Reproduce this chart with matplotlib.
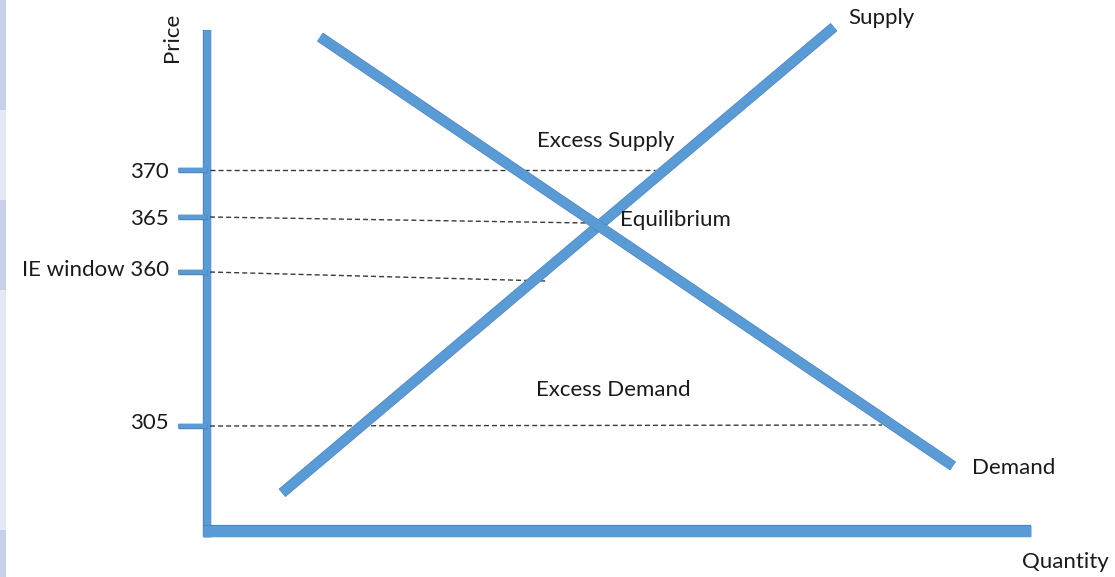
import matplotlib
matplotlib.use("Agg")
import matplotlib.pyplot as plt
import matplotlib.patheffects as pe
from matplotlib.patches import Rectangle

# diagram units: quantity to the right of the price axis, price level above the quantity axis
supply_q = [75, 627]
supply_p = [38, 504]
demand_q = [113, 746]
demand_p = [494, 65]

tick_labels = ["370", "365", "IE window 360", "305"]
tick_p = [361, 314, 259, 105]
label_p = [359, 312, 261, 108]
# guide lines from the price axis to the curves (end quantity, end level)
guide_end_q = [448, 380, 340, 675]
guide_end_p = [361, 308, 250, 106]

region_labels = ["Excess Supply", "Equilibrium", "Excess Demand"]
region_q = [399, 413, 406]
region_p = [390, 311, 141]

blue = "#5b9bd5"
edge = "#4c80bd"
txt = "#1a1a1a"
fs = 16
plt.rcParams["font.family"] = ["Lato", "DejaVu Sans"]

fig = plt.figure(figsize=(11.15, 5.77), dpi=100)
ax = fig.add_axes([0, 0, 1, 1])
ax.set_xlim(-207, 908)
ax.set_ylim(-46, 531)
ax.axis("off")

# faint slide strip on the left edge
bounds = [0, 110, 200, 290, 530, 577]
cols = ["#c9d1e8", "#e6e9f5", "#c9d1e8", "#e6e9f5", "#c9d1e8"]
for i in range(5):
    fig.patches.append(Rectangle((0, 1 - bounds[i + 1] / 577), 6 / 1115,
                                 (bounds[i + 1] - bounds[i]) / 577,
                                 transform=fig.transFigure, color=cols[i], lw=0))

fx = [pe.Stroke(linewidth=7.6, foreground=edge), pe.Stroke(linewidth=6.8, foreground=blue)]

# axes of the diagram
ax.plot([0, 0], [-6, 501], color=blue, lw=5.8, solid_capstyle="butt",
        path_effects=[pe.Stroke(linewidth=6.0, foreground=edge), pe.Stroke(linewidth=5.3, foreground=blue)])
ax.plot([-4, 824], [0, 0], color=blue, lw=8.6, solid_capstyle="butt",
        path_effects=[pe.Stroke(linewidth=8.8, foreground=edge), pe.Stroke(linewidth=8.1, foreground=blue)])

# price ticks, labels and dashed guides
for lab, tp, lp, gq, gp in zip(tick_labels, tick_p, label_p, guide_end_q, guide_end_p):
    ax.plot([-29, 0], [tp, tp], color=blue, lw=3.6, solid_capstyle="butt",
            path_effects=[pe.Stroke(linewidth=3.9, foreground=edge), pe.Stroke(linewidth=3.2, foreground=blue)])
    ax.plot([3, gq], [tp, gp], color="#3a3a3a", lw=1.0, ls=(0, (3.6, 2.2)))
    ax.text(-38, lp, lab, ha="right", va="center", fontsize=fs, color=txt)

# supply and demand
ax.plot(supply_q, supply_p, color=blue, lw=7.4, solid_capstyle="butt", path_effects=fx)
ax.plot(demand_q, demand_p, color=blue, lw=7.4, solid_capstyle="butt", path_effects=fx)

ax.text(641, 513, "Supply", ha="left", va="center", fontsize=fs, color=txt)
ax.text(765, 63, "Demand", ha="left", va="center", fontsize=fs, color=txt)
ax.text(815, -31, "Quantity", ha="left", va="center", fontsize=fs, color=txt)
ax.text(-35, 494, "Price", ha="center", va="center", rotation=90, fontsize=fs, color=txt)

for lab, q, p in zip(region_labels, region_q, region_p):
    ha = "left" if lab == "Equilibrium" else "center"
    ax.text(q, p, lab, ha=ha, va="center", fontsize=fs, color=txt)

fig.savefig("out.png", dpi=100)
